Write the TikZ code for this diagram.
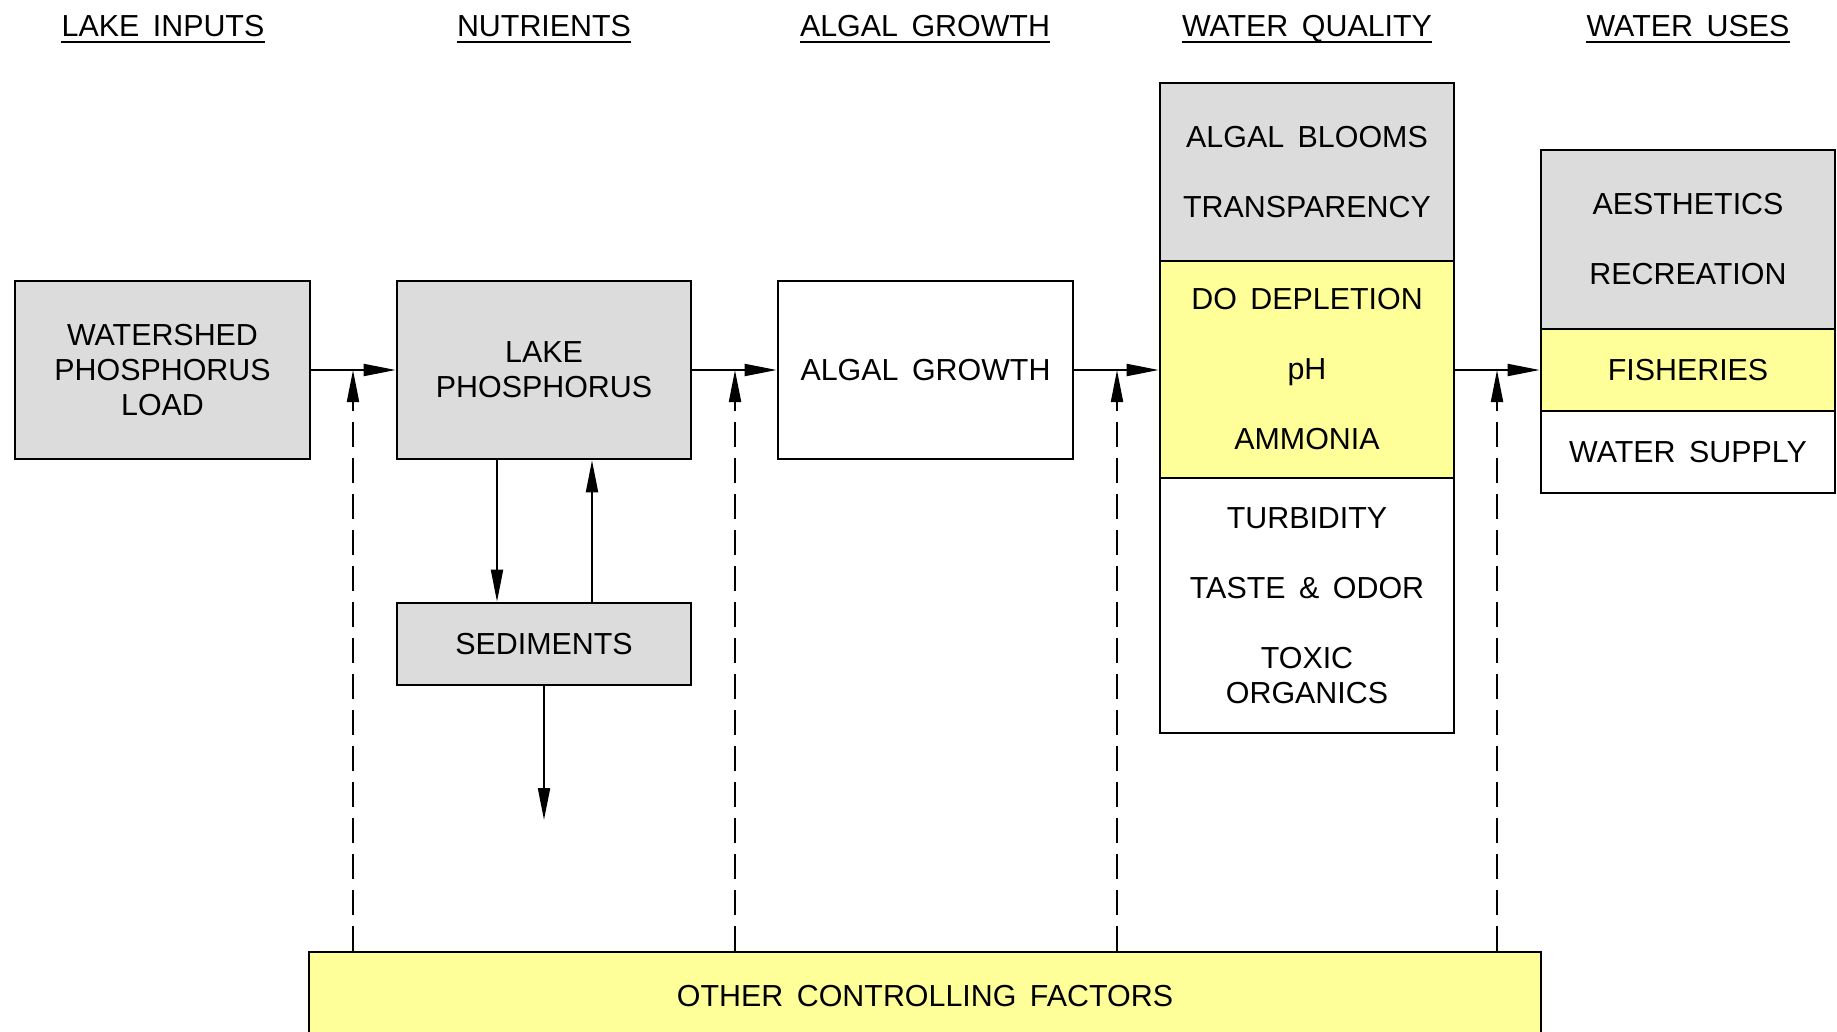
\documentclass[tikz,border=0pt]{standalone}
\usepackage{fontspec}
\setmainfont{Liberation Sans}[WordSpace=1.6]
\usetikzlibrary{arrows.meta}
\definecolor{boxgray}{HTML}{DCDCDC}
\definecolor{boxyellow}{HTML}{FFFF99}
\tikzset{
  txt/.style={font=\fontsize{15.2}{17.5}\selectfont, align=center},
  blk/.style={txt, draw=black, line width=1.3pt, inner sep=0pt},
  gbox/.style={blk, fill=boxgray},
  ybox/.style={blk, fill=boxyellow},
  wbox/.style={blk, fill=white},
  hdr/.style={txt, inner sep=0pt, anchor=base},
  flow/.style={line width=1pt, -{Triangle[length=16pt,width=6pt]}},
  ctrl/.style={flow, dash pattern=on 12.5pt off 5.5pt},
  uline/.style={line width=1pt}
}
\begin{document}
\begin{tikzpicture}[x=0.5pt,y=-0.5pt]
\useasboundingbox (0,0) rectangle (1837,1032);
\clip (0,0) rectangle (1837,1032);
\fill[white] (0,0) rectangle (1837,1032);
% headers
\node[hdr] (h1) at (163,37) {LAKE INPUTS};
\node[hdr] (h2) at (544,37) {NUTRIENTS};
\node[hdr] (h3) at (925,37) {ALGAL GROWTH};
\node[hdr] (h4) at (1307,37) {WATER QUALITY};
\node[hdr] (h5) at (1688,37) {WATER USES};
\foreach \h in {h1,h2,h3,h4,h5}{
  \draw[uline] ([yshift=-2.6pt]\h.base west) -- ([yshift=-2.6pt]\h.base east);
}
% boxes
\node[gbox, minimum width=147.5pt, minimum height=89pt] (ws) at (162.5,370) {WATERSHED\\PHOSPHORUS\\LOAD};
\node[gbox, minimum width=147pt, minimum height=89pt] (lp) at (544,370) {LAKE\\PHOSPHORUS};
\node[wbox, minimum width=147.5pt, minimum height=89pt] (ag) at (925.5,370) {ALGAL GROWTH};
\node[gbox, minimum width=147pt, minimum height=41pt] (sed) at (544,644) {SEDIMENTS};
\node[gbox, minimum width=147pt, minimum height=89pt] (wq1) at (1307,172) {ALGAL BLOOMS\\[17.5pt]TRANSPARENCY};
\node[ybox, minimum width=147pt, minimum height=108.5pt] (wq2) at (1307,369.5) {DO DEPLETION\\[17.5pt]pH\\[17.5pt]AMMONIA};
\node[wbox, minimum width=147pt, minimum height=127.5pt] (wq3) at (1307,605.5) {TURBIDITY\\[17.5pt]TASTE \& ODOR\\[17.5pt]TOXIC\\ORGANICS};
\node[gbox, minimum width=147pt, minimum height=89.5pt] (wu1) at (1688,239.5) {AESTHETICS\\[17.5pt]RECREATION};
\node[ybox, minimum width=147pt, minimum height=41pt] (wu2) at (1688,370) {FISHERIES};
\node[wbox, minimum width=147pt, minimum height=41pt] (wu3) at (1688,452) {WATER SUPPLY};
\node[ybox, minimum width=616pt, minimum height=44pt] (ocf) at (925,996) {OTHER CONTROLLING FACTORS};
% main flow
\draw[flow] (ws.east) -- (lp.west);
\draw[flow] (lp.east) -- (ag.west);
\draw[flow] (ag.east) -- (ag.east -| wq2.west);
\draw[flow] (wq2.east |- wu2.west) -- (wu2.west);
% sediments exchange
\coordinate (sdA) at (497,0);
\coordinate (sdB) at (592,0);
\coordinate (sdOut) at (544,820);
\draw[flow] (lp.south -| sdA) -- (sed.north -| sdA);
\draw[flow] (sed.north -| sdB) -- (lp.south -| sdB);
\draw[flow] (sed.south) -- (sdOut);
% controlling factors
\coordinate (d1) at (353,370);
\coordinate (d2) at (735,370);
\coordinate (d3) at (1117,370);
\coordinate (d4) at (1497,370);
\foreach \d in {d1,d2,d3,d4}{
  \draw[ctrl] (ocf.north -| \d) -- (\d);
}
\end{tikzpicture}
\end{document}
